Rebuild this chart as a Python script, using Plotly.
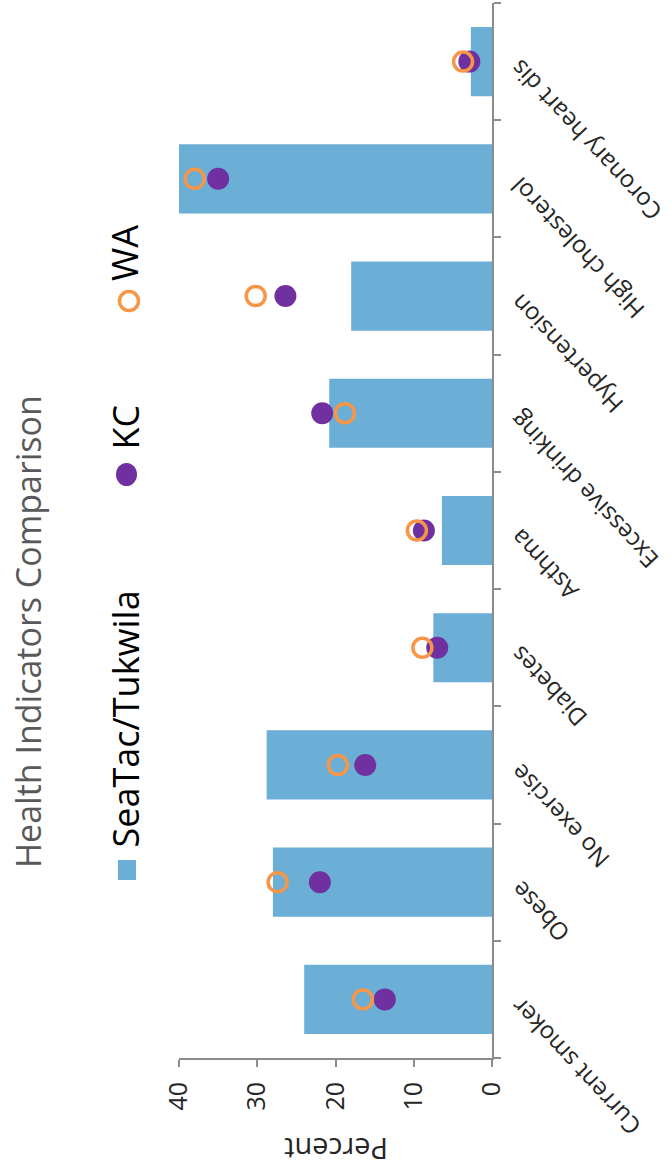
import plotly.graph_objects as go

categories = ["Current smoker", "Obese", "No exercise", "Diabetes", "Asthma",
              "Excessive drinking", "Hypertension", "High cholesterol", "Coronary heart dis"]
seatac_tukwila = [24.0, 28.0, 28.8, 7.5, 6.4, 20.8, 18.0, 40.0, 2.7]
kc = [13.7, 22.0, 16.2, 7.0, 8.7, 21.7, 26.4, 35.0, 2.9]
wa = [16.5, 27.4, 19.7, 8.9, 9.6, 18.8, 30.2, 38.0, 3.7]
percent_ticks = [0, 10, 20, 30, 40]

BAR = "#6baed6"
PURPLE = "#7030a0"
ORANGE = "#f79646"
FONT = "Open Sans"

W, H = 671, 1176
L, R, T, B = 179, 492, 3, 1058


def px_x(px):
    return (px - L) / (R - L)


def px_y(py):
    return (B - py) / (B - T)


fig = go.Figure()
fig.add_trace(go.Bar(y=categories, x=seatac_tukwila, orientation="h",
                     marker=dict(color=BAR, line=dict(width=0)), name="SeaTac/Tukwila"))
fig.add_trace(go.Scatter(y=categories, x=kc, mode="markers", name="KC",
                         marker=dict(color=PURPLE, size=22, line=dict(width=0))))
fig.add_trace(go.Scatter(y=categories, x=wa, mode="markers", name="WA",
                         marker=dict(color="rgba(0,0,0,0)", size=19,
                                     line=dict(color=ORANGE, width=3.5))))

annotations = []
# title
annotations.append(dict(text="Health Indicators Comparison", x=px_x(28), y=px_y(632),
                        xref="paper", yref="paper", xanchor="center", yanchor="middle",
                        textangle=-90, showarrow=False,
                        font=dict(family=FONT, size=34, color="#595959")))
# legend texts
for label, ybot in [("SeaTac/Tukwila", 850), ("KC", 452), ("WA", 283)]:
    annotations.append(dict(text=label, x=px_x(125), y=px_y(ybot), xref="paper", yref="paper",
                            xanchor="center", yanchor="bottom", textangle=-90, showarrow=False,
                            font=dict(family=FONT, size=36, color="#000000")))
# axis title
annotations.append(dict(text="Percent", x=px_x(336), y=px_y(1150), xref="paper", yref="paper",
                        xanchor="center", yanchor="middle", textangle=180, showarrow=False,
                        font=dict(family=FONT, size=29, color="#262626")))
# category labels
for c in categories:
    annotations.append(dict(text=c, x=1, y=c, xref="paper", yref="y",
                            xanchor="left", yanchor="top", textangle=-133,
                            xshift=8, yshift=11, showarrow=False,
                            font=dict(family=FONT, size=24, color="#262626")))

shapes = [
    dict(type="rect", xref="paper", yref="paper", x0=px_x(118), x1=px_x(136),
         y0=px_y(880), y1=px_y(860), fillcolor=BAR, line=dict(width=0)),
    dict(type="circle", xref="paper", yref="paper", x0=px_x(116), x1=px_x(137),
         y0=px_y(486), y1=px_y(463), fillcolor=PURPLE, line=dict(width=0)),
    dict(type="circle", xref="paper", yref="paper", x0=px_x(119.5), x1=px_x(138.5),
         y0=px_y(310.5), y1=px_y(291.5), fillcolor="white", line=dict(color=ORANGE, width=3.5)),
]

fig.update_layout(
    width=W, height=H,
    margin=dict(l=L, r=W - R, t=T, b=H - B, pad=0),
    paper_bgcolor="white", plot_bgcolor="white",
    showlegend=False, bargap=0.41,
    font=dict(family=FONT, color="#262626"),
    annotations=annotations, shapes=shapes,
    xaxis=dict(range=[40, 0], tickvals=percent_ticks, ticks="outside", ticklen=7,
               tickwidth=2, tickcolor="#8c8c8c", showline=True, linecolor="#8c8c8c",
               linewidth=2, showgrid=False, zeroline=False, tickangle=-90,
               tickfont=dict(family=FONT, size=25, color="#262626"),
               ticklabelstandoff=5),
    yaxis=dict(type="category", categoryorder="array", categoryarray=categories,
               range=[-0.5, len(categories) - 0.5],
               side="right", showline=True, linecolor="#8c8c8c", linewidth=2,
               ticks="outside", tickson="boundaries", ticklen=7, tickwidth=2,
               tickcolor="#8c8c8c", showticklabels=False, showgrid=False, zeroline=False),
)

fig.write_html("out.html", config={"displayModeBar": False},
               post_script="document.body.style.margin='0';")
